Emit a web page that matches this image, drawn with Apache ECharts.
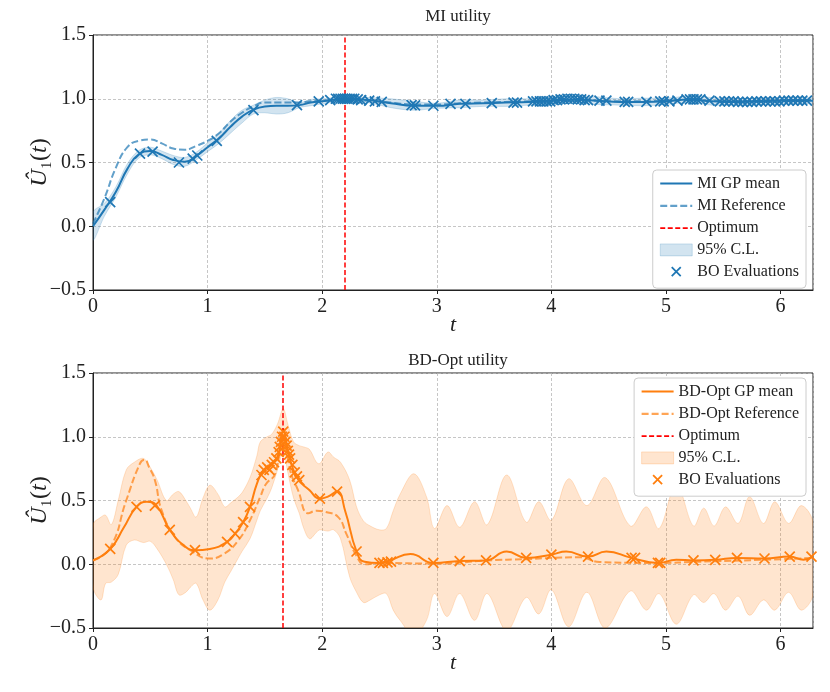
<!DOCTYPE html>
<html>
<head>
<meta charset="utf-8">
<script src="https://cdn.jsdelivr.net/npm/echarts@6/dist/echarts.min.js"></script>
<style>
  html, body { margin: 0; padding: 0; background: #fff; }
  #chart { width: 830px; height: 692px; }
</style>
</head>
<body>
<div id="chart"></div>
<script>
// ---- MI utility (top panel) ----
const miT = [0, 0.1, 0.2, 0.3, 0.4, 0.5, 0.6, 0.7, 0.8, 0.9, 1.0, 1.1, 1.2, 1.3, 1.4, 1.5, 1.6, 1.7, 1.8, 1.9, 2.0, 2.2, 2.4, 2.6, 2.8, 3.0, 3.2, 3.4, 3.6, 3.8, 4.0, 4.2, 4.4, 4.6, 4.8, 5.0, 5.2, 5.4, 5.6, 5.8, 6.0, 6.283]
const miMean = [0.0, 0.13, 0.27, 0.45, 0.565, 0.59, 0.56, 0.52, 0.505, 0.55, 0.62, 0.69, 0.78, 0.86, 0.915, 0.94, 0.945, 0.945, 0.95, 0.97, 0.98, 1.0, 0.99, 0.965, 0.945, 0.945, 0.96, 0.965, 0.97, 0.975, 0.985, 0.995, 0.985, 0.975, 0.975, 0.98, 0.995, 0.98, 0.975, 0.98, 0.985, 0.985]
const miRef = [0.02, 0.22, 0.46, 0.62, 0.67, 0.68, 0.65, 0.61, 0.60, 0.63, 0.67, 0.73, 0.82, 0.89, 0.94, 0.97, 0.97, 0.97, 0.97, 0.98, 0.985, 0.995, 0.985, 0.97, 0.955, 0.955, 0.965, 0.97, 0.975, 0.98, 0.985, 0.99, 0.985, 0.98, 0.98, 0.985, 0.99, 0.985, 0.98, 0.985, 0.985, 0.99]
const miLow = [-0.11, 0.08, 0.23, 0.41, 0.535, 0.56, 0.53, 0.485, 0.47, 0.52, 0.585, 0.65, 0.73, 0.81, 0.88, 0.89, 0.88, 0.89, 0.93, 0.945, 0.96, 0.985, 0.97, 0.93, 0.91, 0.925, 0.93, 0.94, 0.94, 0.95, 0.96, 0.97, 0.955, 0.95, 0.945, 0.955, 0.97, 0.95, 0.95, 0.955, 0.96, 0.965]
const miHigh = [0.11, 0.18, 0.31, 0.49, 0.595, 0.62, 0.59, 0.555, 0.54, 0.58, 0.655, 0.73, 0.83, 0.91, 0.95, 0.99, 1.01, 1.0, 0.97, 0.995, 1.0, 1.015, 1.01, 1.0, 0.98, 0.965, 0.99, 0.99, 1.0, 1.0, 1.01, 1.02, 1.015, 1.0, 1.005, 1.005, 1.02, 1.01, 1.0, 1.005, 1.01, 1.005]
const miEvalT = [0.15, 0.41, 0.52, 0.75, 0.87, 0.91, 1.08, 1.40, 1.78, 1.97, 2.07, 2.12, 2.14, 2.16, 2.18, 2.2, 2.22, 2.24, 2.26, 2.28, 2.31, 2.34, 2.41, 2.46, 2.52, 2.78, 2.81, 2.97, 3.12, 3.25, 3.48, 3.67, 3.70, 3.84, 3.87, 3.90, 3.93, 3.96, 3.99, 4.02, 4.05, 4.08, 4.11, 4.14, 4.17, 4.2, 4.23, 4.26, 4.29, 4.32, 4.42, 4.48, 4.64, 4.67, 4.83, 4.95, 4.98, 5.03, 5.10, 5.18, 5.21, 5.24, 5.27, 5.30, 5.38, 5.47, 5.51, 5.55, 5.59, 5.63, 5.67, 5.71, 5.75, 5.79, 5.83, 5.87, 5.91, 5.95, 5.99, 6.03, 6.07, 6.11, 6.15, 6.19, 6.23]
const miEvalU = [0.19, 0.57, 0.585, 0.50, 0.53, 0.555, 0.67, 0.91, 0.95, 0.98, 0.99, 1.0, 1.0, 1.0, 1.0, 1.0, 1.0, 1.0, 1.0, 1.0, 0.995, 0.99, 0.985, 0.98, 0.975, 0.95, 0.948, 0.945, 0.96, 0.96, 0.965, 0.97, 0.97, 0.98, 0.98, 0.98, 0.98, 0.98, 0.98, 0.99, 0.99, 0.995, 0.995, 1.0, 1.0, 1.0, 0.995, 0.995, 0.99, 0.99, 0.985, 0.985, 0.975, 0.975, 0.975, 0.98, 0.98, 0.98, 0.985, 0.995, 0.995, 0.995, 0.995, 0.995, 0.985, 0.98, 0.98, 0.98, 0.98, 0.975, 0.975, 0.975, 0.975, 0.98, 0.98, 0.98, 0.98, 0.98, 0.98, 0.985, 0.985, 0.985, 0.985, 0.985, 0.985]
const miOptimum = 2.2

// ---- BD-Opt utility (bottom panel) ----
const bdMeanT = [0, 0.15, 0.27, 0.38, 0.47, 0.555, 0.67, 0.79, 0.89, 1.02, 1.17, 1.24, 1.31, 1.37, 1.43, 1.49, 1.56, 1.62, 1.66, 1.70, 1.78, 1.89, 1.98, 2.05, 2.13, 2.20, 2.30, 2.37, 2.50, 2.59, 2.77, 2.97, 3.2, 3.43, 3.61, 3.78, 4.0, 4.13, 4.32, 4.48, 4.70, 4.93, 5.09, 5.24, 5.43, 5.62, 5.86, 6.08, 6.2, 6.283]
const bdMean = [0.03, 0.12, 0.29, 0.45, 0.49, 0.46, 0.27, 0.15, 0.11, 0.12, 0.175, 0.24, 0.33, 0.45, 0.63, 0.74, 0.78, 0.87, 1.05, 0.89, 0.68, 0.58, 0.515, 0.53, 0.57, 0.42, 0.10, 0.02, 0.01, 0.03, 0.08, 0.01, 0.025, 0.03, 0.10, 0.05, 0.075, 0.10, 0.06, 0.10, 0.05, 0.01, 0.035, 0.03, 0.035, 0.05, 0.045, 0.06, 0.035, 0.06]
const bdRefT = [0, 0.15, 0.29, 0.41, 0.45, 0.49, 0.54, 0.60, 0.72, 0.85, 1.02, 1.14, 1.27, 1.37, 1.46, 1.51, 1.59, 1.66, 1.72, 1.79, 1.88, 1.95, 2.03, 2.14, 2.21, 2.30, 2.37, 2.5, 3.0, 3.44, 3.78, 4.0, 4.25, 4.42, 4.92, 5.29, 6.02, 6.283]
const bdRef = [0.03, 0.13, 0.50, 0.79, 0.82, 0.76, 0.66, 0.42, 0.21, 0.11, 0.045, 0.08, 0.19, 0.345, 0.53, 0.63, 0.71, 1.06, 0.74, 0.58, 0.40, 0.42, 0.41, 0.37, 0.24, 0.065, 0.0, 0.01, 0.005, 0.03, 0.04, 0.05, 0.055, 0.018, 0.01, 0.02, 0.04, 0.05]
const bdBandT = [0, 0.07, 0.11, 0.16, 0.22, 0.29, 0.36, 0.44, 0.50, 0.56, 0.64, 0.70, 0.75, 0.81, 0.85, 0.90, 0.96, 1.02, 1.09, 1.15, 1.20, 1.25, 1.30, 1.37, 1.43, 1.46, 1.52, 1.56, 1.61, 1.66, 1.70, 1.75, 1.80, 1.84, 1.89, 1.95, 1.98, 2.05, 2.10, 2.16, 2.24, 2.30, 2.36, 2.42, 2.50, 2.56, 2.62, 2.68, 2.80, 2.91, 2.98, 3.09, 3.20, 3.33, 3.44, 3.61, 3.78, 3.89, 4.00, 4.15, 4.31, 4.47, 4.69, 4.83, 4.94, 5.09, 5.24, 5.33, 5.42, 5.52, 5.63, 5.73, 5.85, 5.95, 6.07, 6.18, 6.283]
const bdHigh = [0.31, 0.37, 0.385, 0.31, 0.50, 0.74, 0.80, 0.83, 0.76, 0.66, 0.50, 0.55, 0.57, 0.50, 0.44, 0.37, 0.52, 0.62, 0.55, 0.45, 0.48, 0.515, 0.56, 0.68, 0.85, 0.96, 1.0, 1.02, 1.10, 1.22, 1.10, 0.96, 0.93, 0.92, 0.90, 0.80, 0.79, 0.88, 0.84, 0.80, 0.66, 0.45, 0.34, 0.30, 0.27, 0.28, 0.42, 0.55, 0.71, 0.53, 0.28, 0.46, 0.29, 0.49, 0.31, 0.70, 0.33, 0.49, 0.345, 0.67, 0.46, 0.68, 0.30, 0.45, 0.28, 0.63, 0.30, 0.44, 0.30, 0.45, 0.32, 0.53, 0.32, 0.49, 0.32, 0.46, 0.33]
const bdLow = [-0.18, -0.28, -0.15, -0.14, -0.08, 0.15, 0.19, 0.17, 0.18, 0.12, 0.0, -0.12, -0.24, -0.22, -0.18, -0.15, -0.28, -0.36, -0.28, -0.14, -0.06, 0.02, 0.10, 0.20, 0.345, 0.42, 0.52, 0.60, 0.74, 0.88, 0.72, 0.52, 0.40, 0.28, 0.20, 0.25, 0.27, 0.26, 0.27, 0.20, -0.10, -0.22, -0.30, -0.28, -0.24, -0.23, -0.36, -0.44, -0.56, -0.44, -0.23, -0.41, -0.23, -0.44, -0.23, -0.52, -0.26, -0.39, -0.20, -0.49, -0.22, -0.50, -0.21, -0.36, -0.23, -0.47, -0.24, -0.30, -0.23, -0.36, -0.25, -0.40, -0.28, -0.36, -0.22, -0.36, -0.24]
const bdEvalT = [0.15, 0.38, 0.54, 0.67, 0.89, 1.17, 1.24, 1.31, 1.37, 1.47, 1.49, 1.52, 1.54, 1.56, 1.58, 1.60, 1.62, 1.63, 1.64, 1.65, 1.66, 1.67, 1.68, 1.69, 1.70, 1.71, 1.72, 1.74, 1.76, 1.78, 1.80, 1.98, 2.13, 2.30, 2.50, 2.53, 2.57, 2.60, 2.97, 3.20, 3.43, 3.78, 4.0, 4.32, 4.70, 4.73, 4.93, 4.95, 5.24, 5.43, 5.62, 5.86, 6.08, 6.27]
const bdEvalU = [0.12, 0.45, 0.46, 0.27, 0.11, 0.175, 0.24, 0.33, 0.45, 0.70, 0.74, 0.76, 0.74, 0.78, 0.80, 0.83, 0.88, 0.92, 0.96, 1.0, 1.04, 1.0, 0.96, 0.93, 0.89, 0.86, 0.83, 0.78, 0.72, 0.69, 0.66, 0.515, 0.57, 0.10, 0.01, 0.01, 0.015, 0.02, 0.01, 0.025, 0.03, 0.05, 0.075, 0.06, 0.05, 0.05, 0.01, 0.01, 0.03, 0.035, 0.05, 0.045, 0.06, 0.06]
const bdOptimum = 1.66

const tMax = 2 * Math.PI
const yTicks = ['−0.5', '0.0', '0.5', '1.0', '1.5']

const BLUE = '#1f77b4'
const ORANGE = '#ff7f0e'
const RED = '#ff0000'
const FONT = 'Liberation Serif'
const XMARK = 'path://M0,0L10,10M10,0L0,10'
// icons are padded with bare moveTo points so they keep their drawn size in the 32x12 legend slot
const XMARK_LEGEND = 'path://M11.5,1.5L20.5,10.5M20.5,1.5L11.5,10.5M0,0M32,12'
const LINE_LEGEND = 'path://M0,6L32,6M0,0M32,12'

const pairs = (xs, ys) => xs.map((x, i) => [x, ys[i]])

function fade (hex, a) {
  const n = parseInt(hex.slice(1), 16)
  return `rgba(${n >> 16},${(n >> 8) & 255},${n & 255},${a})`
}

function xAxis (idx) {
  return {
    type: 'value', gridIndex: idx, min: 0, max: tMax, interval: 1,
    name: 't', nameLocation: 'middle', nameGap: 24, nameMoveOverlap: false,
    nameTextStyle: { fontFamily: FONT, fontStyle: 'italic', fontSize: 22, color: '#222' },
    axisLine: { show: true, onZero: false, lineStyle: { color: '#222', width: 1 } },
    axisTick: { show: true, length: 4, lineStyle: { color: '#222' } },
    axisLabel: { fontFamily: FONT, fontSize: 20, color: '#222', margin: 7, showMaxLabel: false,
      formatter: v => Number.isInteger(v) ? String(v) : '' },
    splitLine: { show: true, lineStyle: { color: '#b8b8b8', type: [3, 2], width: 0.8 } }
  }
}

function yAxis (idx) {
  return {
    type: 'value', gridIndex: idx, min: -0.5, max: 1.5, interval: 0.5,
    name: '{i|Û}{n|₁(}{i|t}{n|)}', nameLocation: 'middle', nameGap: 41, nameMoveOverlap: false,
    nameTextStyle: {
      rich: {
        i: { fontFamily: FONT, fontStyle: 'italic', fontSize: 24, color: '#222' },
        n: { fontFamily: FONT, fontSize: 24, color: '#222' }
      }
    },
    axisLine: { show: true, lineStyle: { color: '#222', width: 1 } },
    axisTick: { show: true, length: 4, lineStyle: { color: '#222' } },
    axisLabel: { fontFamily: FONT, fontSize: 20, color: '#222', margin: 7,
      formatter: v => yTicks[Math.round((v + 0.5) / 0.5)] },
    splitLine: { show: true, lineStyle: { color: '#b8b8b8', type: [3, 2], width: 0.8 } }
  }
}

function panel (idx, key, color, d) {
  const band = fade(color, 0.2)
  return [
    {
      // 95% band: one smoothed polygon through the upper edge and back along the lower edge
      name: key + ':95% C.L.', type: 'custom', xAxisIndex: idx, yAxisIndex: idx, z: 1, silent: true,
      itemStyle: { color: band },
      encode: { x: 0, y: [1, 2] },
      data: d.bandT.map((t, i) => [t, d.low[i], d.high[i]]),
      renderItem: (params, api) => {
        if (params.dataIndex !== 0) return null
        const upper = d.bandT.map((t, i) => api.coord([t, d.high[i]]))
        const lower = d.bandT.map((t, i) => api.coord([t, d.low[i]])).reverse()
        const cs = params.coordSys
        return {
          type: 'group',
          clipPath: { type: 'rect', shape: { x: cs.x, y: cs.y, width: cs.width, height: cs.height } },
          children: [{
            type: 'polygon',
            shape: { points: upper.concat(lower), smooth: 0.35 },
            style: { fill: band, stroke: fade(color, 0.25), lineWidth: 0.8 }
          }]
        }
      }
    },
    {
      name: key + ':' + d.refName, type: 'line', xAxisIndex: idx, yAxisIndex: idx,
      smooth: true, symbol: 'none', z: 3,
      lineStyle: { width: 2, color: fade(color, 0.7), type: [7, 3] }, itemStyle: { color: fade(color, 0.7) },
      data: pairs(d.refT, d.ref)
    },
    {
      name: key + ':' + d.meanName, type: 'line', xAxisIndex: idx, yAxisIndex: idx,
      smooth: true, symbol: 'none', z: 4,
      lineStyle: { width: 2, color: color }, itemStyle: { color: color },
      data: pairs(d.meanT, d.mean)
    },
    {
      name: key + ':Optimum', type: 'line', xAxisIndex: idx, yAxisIndex: idx, z: 6,
      lineStyle: { width: 1.5, color: RED, type: [5, 2.5] }, itemStyle: { color: RED },
      symbol: 'none', data: [],
      markLine: {
        silent: true, symbol: ['none', 'none'], label: { show: false },
        lineStyle: { width: 1.5, color: RED, type: [5, 2.5] },
        data: [{ xAxis: d.opt }]
      }
    },
    {
      name: key + ':BO Evaluations', type: 'scatter', xAxisIndex: idx, yAxisIndex: idx,
      symbol: XMARK, symbolSize: 10, z: 5,
      itemStyle: { color: 'none', borderColor: color, borderWidth: 1.7, opacity: 1 },
      data: pairs(d.evalT, d.evalU)
    }
  ]
}

function lineIcon (name, color, width, dash) {
  return { name: name, icon: LINE_LEGEND,
    itemStyle: { color: 'none', borderColor: color, borderWidth: width, borderType: dash } }
}

function legend (key, top, color, d) {
  return {
    orient: 'vertical', right: 24, top: top, selectedMode: false,
    backgroundColor: '#fff', borderColor: '#cccccc', borderWidth: 1, borderRadius: 4,
    padding: [5, 7, 8, 5], itemGap: 5.3, itemWidth: 32, itemHeight: 12, itemTextGap: 11,
    textStyle: { fontFamily: FONT, fontSize: 16, color: '#222', lineHeight: 16 },
    formatter: n => n.split(':')[1],
    data: [
      lineIcon(key + ':' + d.meanName, color, 2.2, 'solid'),
      lineIcon(key + ':' + d.refName, fade(color, 0.7), 2.2, [7, 3]),
      lineIcon(key + ':Optimum', RED, 1.6, [5, 2.5]),
      { name: key + ':95% C.L.', icon: 'rect', itemStyle: { color: fade(color, 0.2), borderColor: fade(color, 0.25), borderWidth: 0.8 } },
      { name: key + ':BO Evaluations', icon: XMARK_LEGEND, itemStyle: { color: 'none', borderColor: color, borderWidth: 1.8 } }
    ]
  }
}

const mi = { bandT: miT, low: miLow, high: miHigh, refT: miT, ref: miRef, meanT: miT, mean: miMean,
  evalT: miEvalT, evalU: miEvalU, opt: miOptimum, meanName: 'MI GP mean', refName: 'MI Reference' }
const bd = { bandT: bdBandT, low: bdLow, high: bdHigh, refT: bdRefT, ref: bdRef, meanT: bdMeanT, mean: bdMean,
  evalT: bdEvalT, evalU: bdEvalU, opt: bdOptimum, meanName: 'BD-Opt GP mean', refName: 'BD-Opt Reference' }

const myChart = echarts.init(document.getElementById('chart'), null, { renderer: 'canvas' })
const option = {
  animation: false,
  backgroundColor: '#fff',
  title: [
    { text: 'MI utility', left: 453, top: 3, textAlign: 'center',
      textStyle: { fontFamily: FONT, fontSize: 17, fontWeight: 'normal', color: '#222' } },
    { text: 'BD-Opt utility', left: 453, top: 347, textAlign: 'center',
      textStyle: { fontFamily: FONT, fontSize: 17, fontWeight: 'normal', color: '#222' } }
  ],
  grid: [
    { left: 93, right: 17, top: 35, height: 255, show: true, borderColor: '#222', borderWidth: 1, outerBoundsMode: 'none' },
    { left: 93, right: 17, top: 373, height: 255, show: true, borderColor: '#222', borderWidth: 1, outerBoundsMode: 'none' }
  ],
  xAxis: [xAxis(0), xAxis(1)],
  yAxis: [yAxis(0), yAxis(1)],
  legend: [legend('mi', 170, BLUE, mi), legend('bd', 378, ORANGE, bd)],
  series: [...panel(0, 'mi', BLUE, mi), ...panel(1, 'bd', ORANGE, bd)]
}
if (option && typeof option === 'object') {
  myChart.setOption(option, true)
}
</script>
</body>
</html>
